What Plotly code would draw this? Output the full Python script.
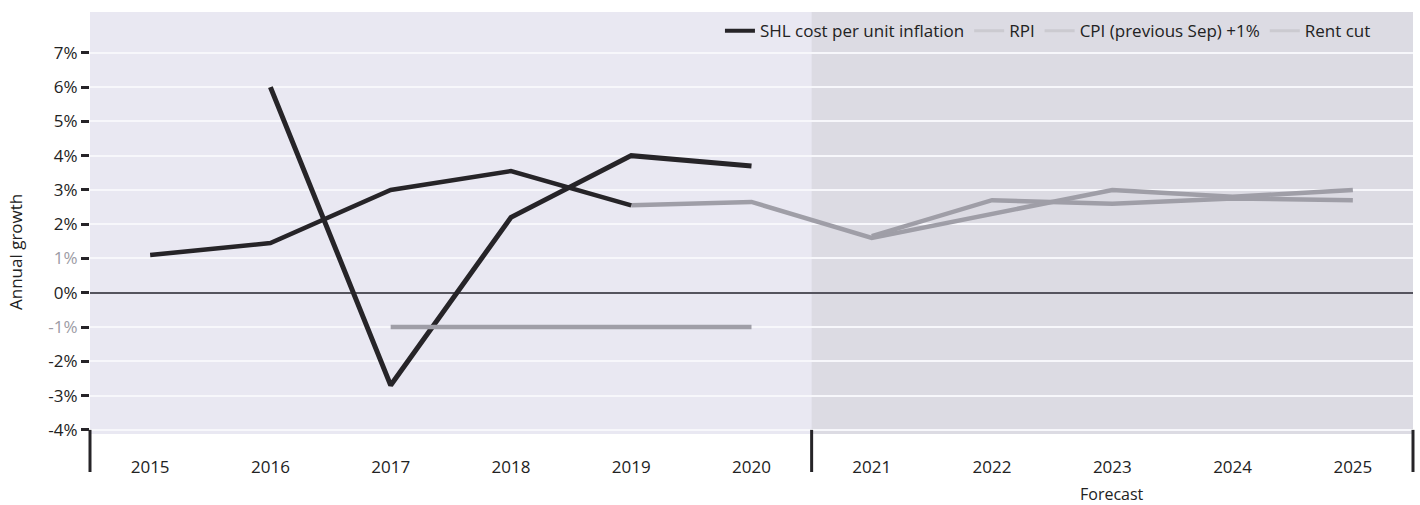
import plotly.graph_objects as go

# ---------------- data ----------------
years = ["2015", "2016", "2017", "2018", "2019", "2020",
         "2021", "2022", "2023", "2024", "2025"]
actual_years = years[:6]
forecast_years = years[6:]

shl_years = ["2016", "2017", "2018", "2019", "2020"]
shl_values = [6.0, -2.7, 2.2, 4.0, 3.7]

rpi_actual_years = ["2015", "2016", "2017", "2018", "2019"]
rpi_actual_values = [1.1, 1.45, 3.0, 3.55, 2.55]

rpi_later_years = ["2019", "2020", "2021", "2022", "2023", "2024", "2025"]
rpi_later_values = [2.55, 2.65, 1.6, 2.3, 3.0, 2.8, 3.0]

cpi_years = ["2021", "2022", "2023", "2024", "2025"]
cpi_values = [1.65, 2.7, 2.6, 2.75, 2.7]

rent_years = ["2017", "2018", "2019", "2020"]
rent_values = [-1.0, -1.0, -1.0, -1.0]

y_tick_values = [-4, -3, -2, -1, 0, 1, 2, 3, 4, 5, 6, 7]
y_tick_labels = ["-4%", "-3%", "-2%", "<span style='color:#9c9ba4'>-1%</span>", "0%",
                 "<span style='color:#9c9ba4'>1%</span>", "2%", "3%", "4%", "5%", "6%", "7%"]

legend_names = ["SHL cost per unit inflation", "RPI", "CPI (previous Sep) +1%", "Rent cut"]

# ---------------- style ----------------
FONT = "Open Sans"
FS = 17
DARK = "#262428"
GREY = "#9f9ea7"
LEG_GREY = "#cbcad0"
TXT = "#222222"
Y_MIN, Y_MAX = -4.12, 8.19

fig = go.Figure()

fig.add_trace(go.Scatter(x=shl_years, y=shl_values, mode="lines",
                         line=dict(color=DARK, width=5), showlegend=False))
fig.add_trace(go.Scatter(x=rpi_later_years, y=rpi_later_values, mode="lines",
                         line=dict(color=GREY, width=4.5), showlegend=False))
fig.add_trace(go.Scatter(x=cpi_years, y=cpi_values, mode="lines",
                         line=dict(color=GREY, width=4.5), showlegend=False))
fig.add_trace(go.Scatter(x=rent_years, y=rent_values, mode="lines",
                         line=dict(color=GREY, width=4.5), showlegend=False))
fig.add_trace(go.Scatter(x=rpi_actual_years, y=rpi_actual_values, mode="lines",
                         line=dict(color=DARK, width=4.5), showlegend=False))

# legend-only entries
leg_colors = [DARK, LEG_GREY, LEG_GREY, LEG_GREY]
leg_widths = [4, 3, 3, 3]
for name, c, w in zip(legend_names, leg_colors, leg_widths):
    fig.add_trace(go.Scatter(x=[None], y=[None], mode="lines", name=name,
                             line=dict(color=c, width=w), showlegend=True))

n = len(years)
split = len(actual_years) / n
plot_h = 505 - 12 - 71
p_m4 = (-4 - Y_MIN) / (Y_MAX - Y_MIN)
tick_drop = 38 / plot_h

shapes = [
    dict(type="rect", xref="paper", yref="paper", x0=split, x1=1, y0=0, y1=1,
         fillcolor="#dcdbe3", line=dict(width=0), layer="below"),
]
for xp in [0, split, 1]:
    shapes.append(dict(type="line", xref="paper", yref="paper", x0=xp, x1=xp,
                       y0=p_m4, y1=-tick_drop,
                       line=dict(color=DARK, width=3)))

fig.update_layout(
    width=1420, height=505,
    margin=dict(l=90, r=7, t=12, b=71),
    paper_bgcolor="white",
    plot_bgcolor="#e9e8f2",
    font=dict(family=FONT, size=FS, color=TXT),
    shapes=shapes,
    showlegend=True,
    legend=dict(orientation="h", x=0.972, xanchor="right", y=0.997, yanchor="top",
                bgcolor="rgba(0,0,0,0)", font=dict(size=FS, color=TXT),
                itemwidth=30, traceorder="normal"),
    xaxis=dict(type="category", categoryorder="array", categoryarray=years,
               range=[-0.5, n - 0.5], showgrid=False, zeroline=False, showline=False,
               ticks="outside", ticklen=18, tickcolor="rgba(0,0,0,0)",
               tickfont=dict(size=FS, color=TXT)),
    yaxis=dict(range=[Y_MIN, Y_MAX], tickvals=y_tick_values, ticktext=y_tick_labels,
               ticks="outside", ticklen=8, tickwidth=3, tickcolor=DARK,
               showgrid=True, gridcolor="#f7f7fb", gridwidth=2,
               zeroline=True, zerolinecolor="#55545e", zerolinewidth=2,
               showline=False, tickfont=dict(size=FS, color=TXT)),
    annotations=[
        dict(text="Annual growth", xref="paper", yref="paper", x=0, xshift=-75,
             y=(434 - 252) / plot_h, textangle=-90, showarrow=False,
             font=dict(size=FS, color=TXT), xanchor="center", yanchor="middle"),
        dict(text="Forecast", xref="paper", yref="paper",
             x=(split + 1) / 2, y=-0.142,
             showarrow=False, font=dict(size=16, color=TXT),
             xanchor="center", yanchor="middle"),
    ],
)

fig.write_html("out.html")
